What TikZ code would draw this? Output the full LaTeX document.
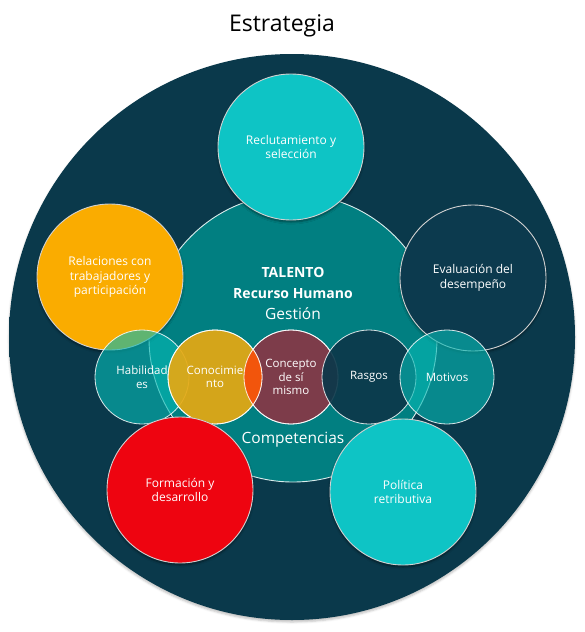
\documentclass[tikz,border=0pt]{standalone}
\usepackage{fontspec}
\setmainfont{Open Sans}
\usetikzlibrary{positioning, shadows.blur}

\definecolor{navy}{RGB}{10,57,75}
\definecolor{navyrim}{RGB}{84,128,144}
\definecolor{tealmid}{RGB}{1,127,129}
\definecolor{cyanball}{RGB}{14,196,197}
\definecolor{cyanhi}{RGB}{70,242,242}
\definecolor{orangeball}{RGB}{250,172,0}
\definecolor{orangehi}{RGB}{255,210,50}
\definecolor{redball}{RGB}{238,4,16}
\definecolor{redhi}{RGB}{255,50,60}
\definecolor{darkball}{RGB}{12,58,78}
\definecolor{darkhi}{RGB}{46,94,112}
\definecolor{habcol}{RGB}{6,185,180}
\definecolor{conoccol}{RGB}{230,169,18}
\definecolor{conceptcol}{RGB}{125,60,74}
\definecolor{rasgoscol}{RGB}{12,56,74}
\definecolor{lenscol}{RGB}{242,85,12}

% glossy balls: base colour, lighter rim on top
\newcommand\ballshade[3]{%
  \pgfdeclareradialshading{#1}{\pgfpoint{0bp}{-16bp}}%
    {color(0bp)=(#2); color(42bp)=(#2); color(66bp)=(#3)}}
\ballshade{ballcyan}{cyanball}{cyanhi}
\ballshade{ballorange}{orangeball}{orangehi}
\ballshade{ballred}{redball}{redhi}
\ballshade{balldark}{darkball}{darkhi}
\pgfdeclareradialshading{outerdisc}{\pgfpoint{0bp}{-2bp}}%
  {color(0bp)=(navy); color(43bp)=(navy); color(52bp)=(navyrim)}

\begin{document}
\begin{tikzpicture}[
  x=1pt, y=-1pt,
  font=\fontsize{12}{14.5}\selectfont,
  bigball/.style={circle, minimum size=146pt, inner sep=0pt,
    draw=white!65!gray, line width=0.9pt, text=white, align=center,
    blur shadow={shadow xshift=0pt, shadow yshift=-2pt,
      shadow blur steps=6, shadow opacity=45}},
  smallball/.style={circle, minimum size=94pt, inner sep=0pt,
    draw=white, line width=0.8pt, draw opacity=0.85},
  smalltxt/.style={text=white, align=center,
    font=\fontsize{11.5}{13.5}\selectfont},
  coretxt/.style={text=white, align=center},
]
  % page: 584 x 632 px, 1 px = 1 pt, y grows downwards
  \useasboundingbox (0,0) rectangle (584,632);

  % Title
  \node[font=\fontsize{23}{28}\selectfont, anchor=base] (title) at (282,31) {Estrategia};

  % Outer disc (strategy) and middle disc (talent)
  \node[circle, minimum size=566pt, inner sep=0pt, shading=outerdisc,
    blur shadow={shadow xshift=0pt, shadow yshift=-2pt, shadow opacity=25}]
    (strategy) at (292,337) {};
  \node[circle, minimum size=288pt, inner sep=0pt, fill=tealmid,
    draw=white!85!tealmid, line width=0.9pt] (core) at (293,338) {};

  % Big balls behind the row
  \node[bigball, shading=ballcyan] (recl) at (291,147) {Reclutamiento y\\selección};
  \node[bigball, shading=ballorange] (rel) at (110,277) {Relaciones con\\trabajadores y\\participación};
  \node[bigball, shading=balldark] (eval) at (473,278) {Evaluación del\\desempeño};

  % Core labels
  \node[coretxt, font=\bfseries\fontsize{14}{21}\selectfont] (talento) at (293,283) {TALENTO\\Recurso Humano};
  \node[coretxt, font=\fontsize{15.5}{18}\selectfont] (gestion) at (293,314) {Gestión};
  \node[coretxt, font=\fontsize{15.5}{18}\selectfont] (compet) at (293,440) {Competencias};

  % Competency row, left part (name, x, colour, opacity)
  \foreach \n/\x/\c/\o in {hab/142/habcol/0.63, conc/291/conceptcol/1,
      conoc/215/conoccol/0.92}
    \node[smallball, fill=\c, fill opacity=\o] (\n) at (\x,377) {};

  % Overlap of Conocimiento and Concepto
  \begin{scope}
    \clip (conoc.center) circle (47pt);
    \fill[lenscol] (conc.center) circle (47pt);
  \end{scope}
  \draw[white, line width=0.8pt, draw opacity=0.85] (conoc.center) circle (47pt) (conc.center) circle (47pt);

  % Competency row, right part
  \foreach \n/\x/\c/\o in {ras/369/rasgoscol/0.92, mot/447/habcol/0.63}
    \node[smallball, fill=\c, fill opacity=\o] (\n) at (\x,377) {};

  \foreach \n/\t in {hab/{Habilidad\\es}, conoc/{Conocimie\\nto},
      conc/{Concepto\\de sí\\mismo}, ras/Rasgos, mot/Motivos}
    \node[smalltxt] (\n-txt) at (\n) {\t};

  % Big balls in front
  \node[bigball, shading=ballred] (form) at (180,490) {Formación y\\desarrollo};
  \node[bigball, shading=ballcyan] (pol) at (403,492) {Política\\retributiva};
\end{tikzpicture}
\end{document}
